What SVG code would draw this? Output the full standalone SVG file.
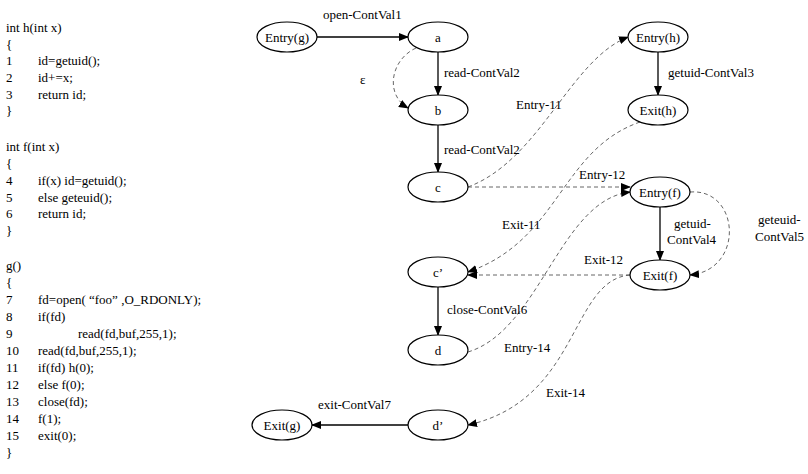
<svg xmlns="http://www.w3.org/2000/svg" width="808" height="474" viewBox="0 0 808 474">
<style>
text{font-family:"Liberation Serif","Times New Roman","DejaVu Serif",serif;font-size:13px;fill:#000}
.n ellipse{fill:#fff;stroke:#000;stroke-width:1.2}
.n text{text-anchor:middle}
.s{fill:none;stroke:#000;stroke-width:1.3}
.d{fill:none;stroke:#555;stroke-width:0.9;stroke-dasharray:4 3}
</style>
<defs>
<marker id="ah" markerWidth="10" markerHeight="8" refX="9" refY="4" orient="auto" markerUnits="userSpaceOnUse"><path d="M0,0L10,4L0,8Z" fill="#000"/></marker>
</defs>
<rect width="808" height="474" fill="#fff"/>
<g id="code">
<text x="6" y="32">int h(int x)</text>
<text x="6" y="49">{</text>
<text x="6" y="65">1</text><text x="38" y="65">id=getuid();</text>
<text x="6" y="82">2</text><text x="38" y="82">id+=x;</text>
<text x="6" y="99">3</text><text x="38" y="99">return id;</text>
<text x="6" y="115">}</text>
<text x="6" y="151">int f(int x)</text>
<text x="6" y="168">{</text>
<text x="6" y="185">4</text><text x="38" y="185">if(x) id=getuid();</text>
<text x="6" y="202">5</text><text x="38" y="202">else geteuid();</text>
<text x="6" y="218">6</text><text x="38" y="218">return id;</text>
<text x="6" y="235">}</text>
<text x="6" y="270">g()</text>
<text x="6" y="287">{</text>
<text x="6" y="304">7</text><text x="38" y="304">fd=open( “foo” ,O_RDONLY);</text>
<text x="6" y="321">8</text><text x="38" y="321">if(fd)</text>
<text x="6" y="338">9</text><text x="78" y="338">read(fd,buf,255,1);</text>
<text x="6" y="355">10</text><text x="38" y="355">read(fd,buf,255,1);</text>
<text x="6" y="372">11</text><text x="38" y="372">if(fd) h(0);</text>
<text x="6" y="389">12</text><text x="38" y="389">else f(0);</text>
<text x="6" y="406">13</text><text x="38" y="406">close(fd);</text>
<text x="6" y="423">14</text><text x="38" y="423">f(1);</text>
<text x="6" y="440">15</text><text x="38" y="440">exit(0);</text>
<text x="6" y="457">}</text>
</g>
<g id="connectors">
<path class="s" d="M317,37H408" marker-end="url(#ah)"/>
<path class="s" d="M438,52V95" marker-end="url(#ah)"/>
<path class="d" d="M416,48C390,60 385,95 408,108" marker-end="url(#ah)"/>
<path class="s" d="M438,125V172" marker-end="url(#ah)"/>
<path class="d" d="M468,187C540,160 570,60 628,37" marker-end="url(#ah)"/>
<path class="s" d="M658,52V95" marker-end="url(#ah)"/>
<path class="d" d="M640,122C560,150 560,240 468,272" marker-end="url(#ah)"/>
<path class="d" d="M468,187H630" marker-end="url(#ah)"/>
<path class="s" d="M660,207V260" marker-end="url(#ah)"/>
<path class="d" d="M690,192C740,188 745,270 690,275" marker-end="url(#ah)"/>
<path class="d" d="M630,275H468" marker-end="url(#ah)"/>
<path class="d" d="M468,352C540,330 560,200 630,192" marker-end="url(#ah)"/>
<path class="d" d="M630,275C570,280 580,400 468,425" marker-end="url(#ah)"/>
<path class="s" d="M438,287V335" marker-end="url(#ah)"/>
<path class="s" d="M408,425H312" marker-end="url(#ah)"/>
<text x="323" y="19">open-ContVal1</text>
<text x="444" y="77">read-ContVal2</text>
<text x="360" y="84">ε</text>
<text x="444" y="154">read-ContVal2</text>
<text x="516" y="109">Entry-11</text>
<text x="668" y="77">getuid-ContVal3</text>
<text x="502" y="229">Exit-11</text>
<text x="579" y="179">Entry-12</text>
<text x="674" y="228">getuid-</text>
<text x="667" y="244">ContVal4</text>
<text x="758" y="224">geteuid-</text>
<text x="755" y="241">ContVal5</text>
<text x="584" y="264">Exit-12</text>
<text x="447" y="314">close-ContVal6</text>
<text x="504" y="352">Entry-14</text>
<text x="546" y="397">Exit-14</text>
<text x="318" y="409">exit-ContVal7</text>
</g>
<g id="entry-g" class="n"><ellipse cx="287" cy="37" rx="30" ry="15"/><text x="287" y="42">Entry(g)</text></g>
<g id="a" class="n"><ellipse cx="438" cy="37" rx="30" ry="15"/><text x="438" y="42">a</text></g>
<g id="b" class="n"><ellipse cx="438" cy="110" rx="30" ry="15"/><text x="438" y="115">b</text></g>
<g id="c" class="n"><ellipse cx="438" cy="187" rx="30" ry="15"/><text x="438" y="192">c</text></g>
<g id="entry-h" class="n"><ellipse cx="658" cy="37" rx="30" ry="15"/><text x="658" y="42">Entry(h)</text></g>
<g id="exit-h" class="n"><ellipse cx="658" cy="110" rx="30" ry="15"/><text x="658" y="115">Exit(h)</text></g>
<g id="entry-f" class="n"><ellipse cx="660" cy="192" rx="30" ry="15"/><text x="660" y="197">Entry(f)</text></g>
<g id="exit-f" class="n"><ellipse cx="660" cy="275" rx="30" ry="15"/><text x="660" y="280">Exit(f)</text></g>
<g id="c-prime" class="n"><ellipse cx="438" cy="272" rx="30" ry="15"/><text x="438" y="277">c’</text></g>
<g id="d" class="n"><ellipse cx="438" cy="350" rx="30" ry="15"/><text x="438" y="355">d</text></g>
<g id="d-prime" class="n"><ellipse cx="438" cy="425" rx="30" ry="15"/><text x="438" y="430">d’</text></g>
<g id="exit-g" class="n"><ellipse cx="282" cy="425" rx="30" ry="15"/><text x="282" y="430">Exit(g)</text></g>
</svg>
